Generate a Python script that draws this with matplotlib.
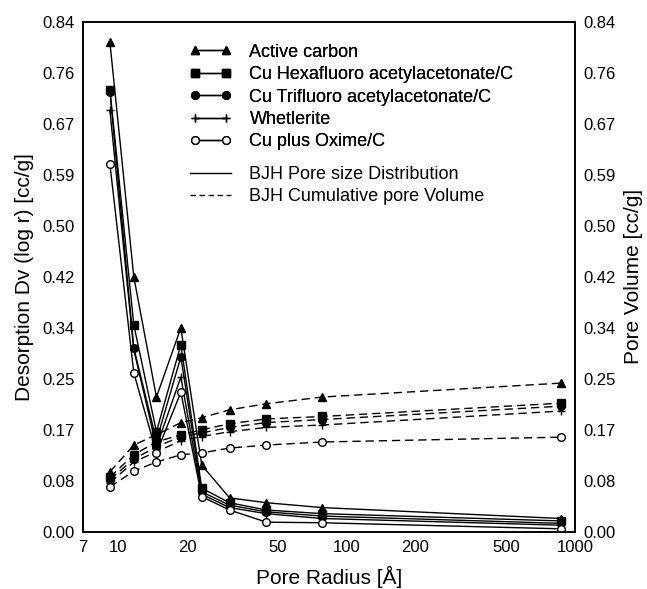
import matplotlib
matplotlib.use("Agg")
import matplotlib.pyplot as plt
from matplotlib.lines import Line2D

plt.rcParams['font.family'] = ['Liberation Sans', 'DejaVu Sans']

# Pore radius (A) of the measured points
radius = [9.2, 11.7, 14.7, 18.8, 23.2, 30.7, 44.5, 78.0, 870.0]

# BJH pore size distribution, Dv(log r) [cc/g]
psd_active = [0.806, 0.420, 0.222, 0.336, 0.110, 0.056, 0.048, 0.040, 0.022]
psd_hexa   = [0.728, 0.341, 0.165, 0.308, 0.072, 0.048, 0.036, 0.030, 0.018]
psd_tri    = [0.725, 0.303, 0.150, 0.288, 0.066, 0.044, 0.033, 0.026, 0.014]
psd_whet   = [0.694, 0.300, 0.140, 0.255, 0.062, 0.040, 0.030, 0.022, 0.011]
psd_oxime  = [0.605, 0.262, 0.130, 0.230, 0.058, 0.036, 0.016, 0.015, 0.005]

# BJH cumulative pore volume [cc/g]
cum_active = [0.099, 0.143, 0.160, 0.180, 0.188, 0.201, 0.211, 0.222, 0.245]
cum_hexa   = [0.090, 0.127, 0.148, 0.160, 0.168, 0.178, 0.186, 0.190, 0.212]
cum_tri    = [0.086, 0.120, 0.140, 0.157, 0.163, 0.172, 0.180, 0.185, 0.207]
cum_whet   = [0.081, 0.115, 0.132, 0.150, 0.157, 0.165, 0.172, 0.176, 0.199]
cum_oxime  = [0.074, 0.100, 0.115, 0.127, 0.130, 0.138, 0.143, 0.148, 0.156]

names = ["Active carbon", "Cu Hexafluoro acetylacetonate/C",
         "Cu Trifluoro acetylacetonate/C", "Whetlerite", "Cu plus Oxime/C"]
markers = ["^", "s", "o", "+", "o"]
faces = ["k", "k", "k", "k", "w"]
psd = [psd_active, psd_hexa, psd_tri, psd_whet, psd_oxime]
cum = [cum_active, cum_hexa, cum_tri, cum_whet, cum_oxime]

yticks = [0.00, 0.084, 0.168, 0.252, 0.336, 0.42, 0.504, 0.588, 0.672, 0.756, 0.84]
ylabels = ["0.00", "0.08", "0.17", "0.25", "0.34", "0.42", "0.50", "0.59",
           "0.67", "0.76", "0.84"]
xticks = [7, 10, 20, 50, 100, 200, 500, 1000]

fig = plt.figure(figsize=(6.47, 5.89), dpi=100)
ax = fig.add_axes([0.128, 0.097, 0.761, 0.866])

ms = 5.5
for i in range(5):
    ax.plot(radius, psd[i], "-", color="k", lw=1.0, marker=markers[i], ms=ms,
            mfc=faces[i], mec="k", mew=1.0)
    ax.plot(radius, cum[i], "--", color="k", lw=1.0, dashes=(6, 3.5),
            marker=markers[i], ms=ms, mfc=faces[i], mec="k", mew=1.0)

ax.set_xscale("log")
ax.set_xlim(7, 1000)
ax.set_ylim(0, 0.84)
ax.set_xticks(xticks)
ax.set_xticklabels([str(t) for t in xticks])
ax.minorticks_off()
ax.set_yticks(yticks)
ax.set_yticklabels(ylabels)
ax.tick_params(length=0, labelsize=12, pad=6)
ax.set_xlabel("Pore Radius [Å]", fontsize=15, labelpad=8)
ax.set_ylabel("Desorption Dv (log r) [cc/g]", fontsize=15, labelpad=6)

ax2 = ax.twinx()
ax2.set_ylim(0, 0.84)
ax2.set_yticks(yticks)
ax2.set_yticklabels(ylabels)
ax2.tick_params(length=0, labelsize=12, pad=6)
ax2.set_ylabel("Pore Volume [cc/g]", fontsize=15, labelpad=6)

for a in (ax, ax2):
    for s in a.spines.values():
        s.set_linewidth(1.2)

handles = []
for i in range(5):
    handles.append(Line2D([], [], color="k", lw=1.0, marker=markers[i], ms=ms,
                          mfc=faces[i], mec="k"))
leg1 = ax.legend(handles, names, loc="upper left", bbox_to_anchor=(0.2175, 0.957),
                 frameon=False, numpoints=2, handlelength=2.3, handletextpad=1.0,
                 fontsize=13, labelspacing=0.3, borderpad=0, borderaxespad=0)
ax.add_artist(leg1)

style_handles = [Line2D([], [], color="k", lw=1.0, ls="-"),
                 Line2D([], [], color="k", lw=1.0, ls="--", dashes=(4, 2.5))]
style_names = ["BJH Pore size Distribution", "BJH Cumulative pore Volume"]
ax2.legend(style_handles, style_names, loc="upper left",
           bbox_to_anchor=(0.2175, 0.7175), frameon=False, handlelength=2.3,
           handletextpad=1.0, fontsize=13, labelspacing=0.3, borderpad=0,
           borderaxespad=0)

fig.savefig("out.png", dpi=100)
